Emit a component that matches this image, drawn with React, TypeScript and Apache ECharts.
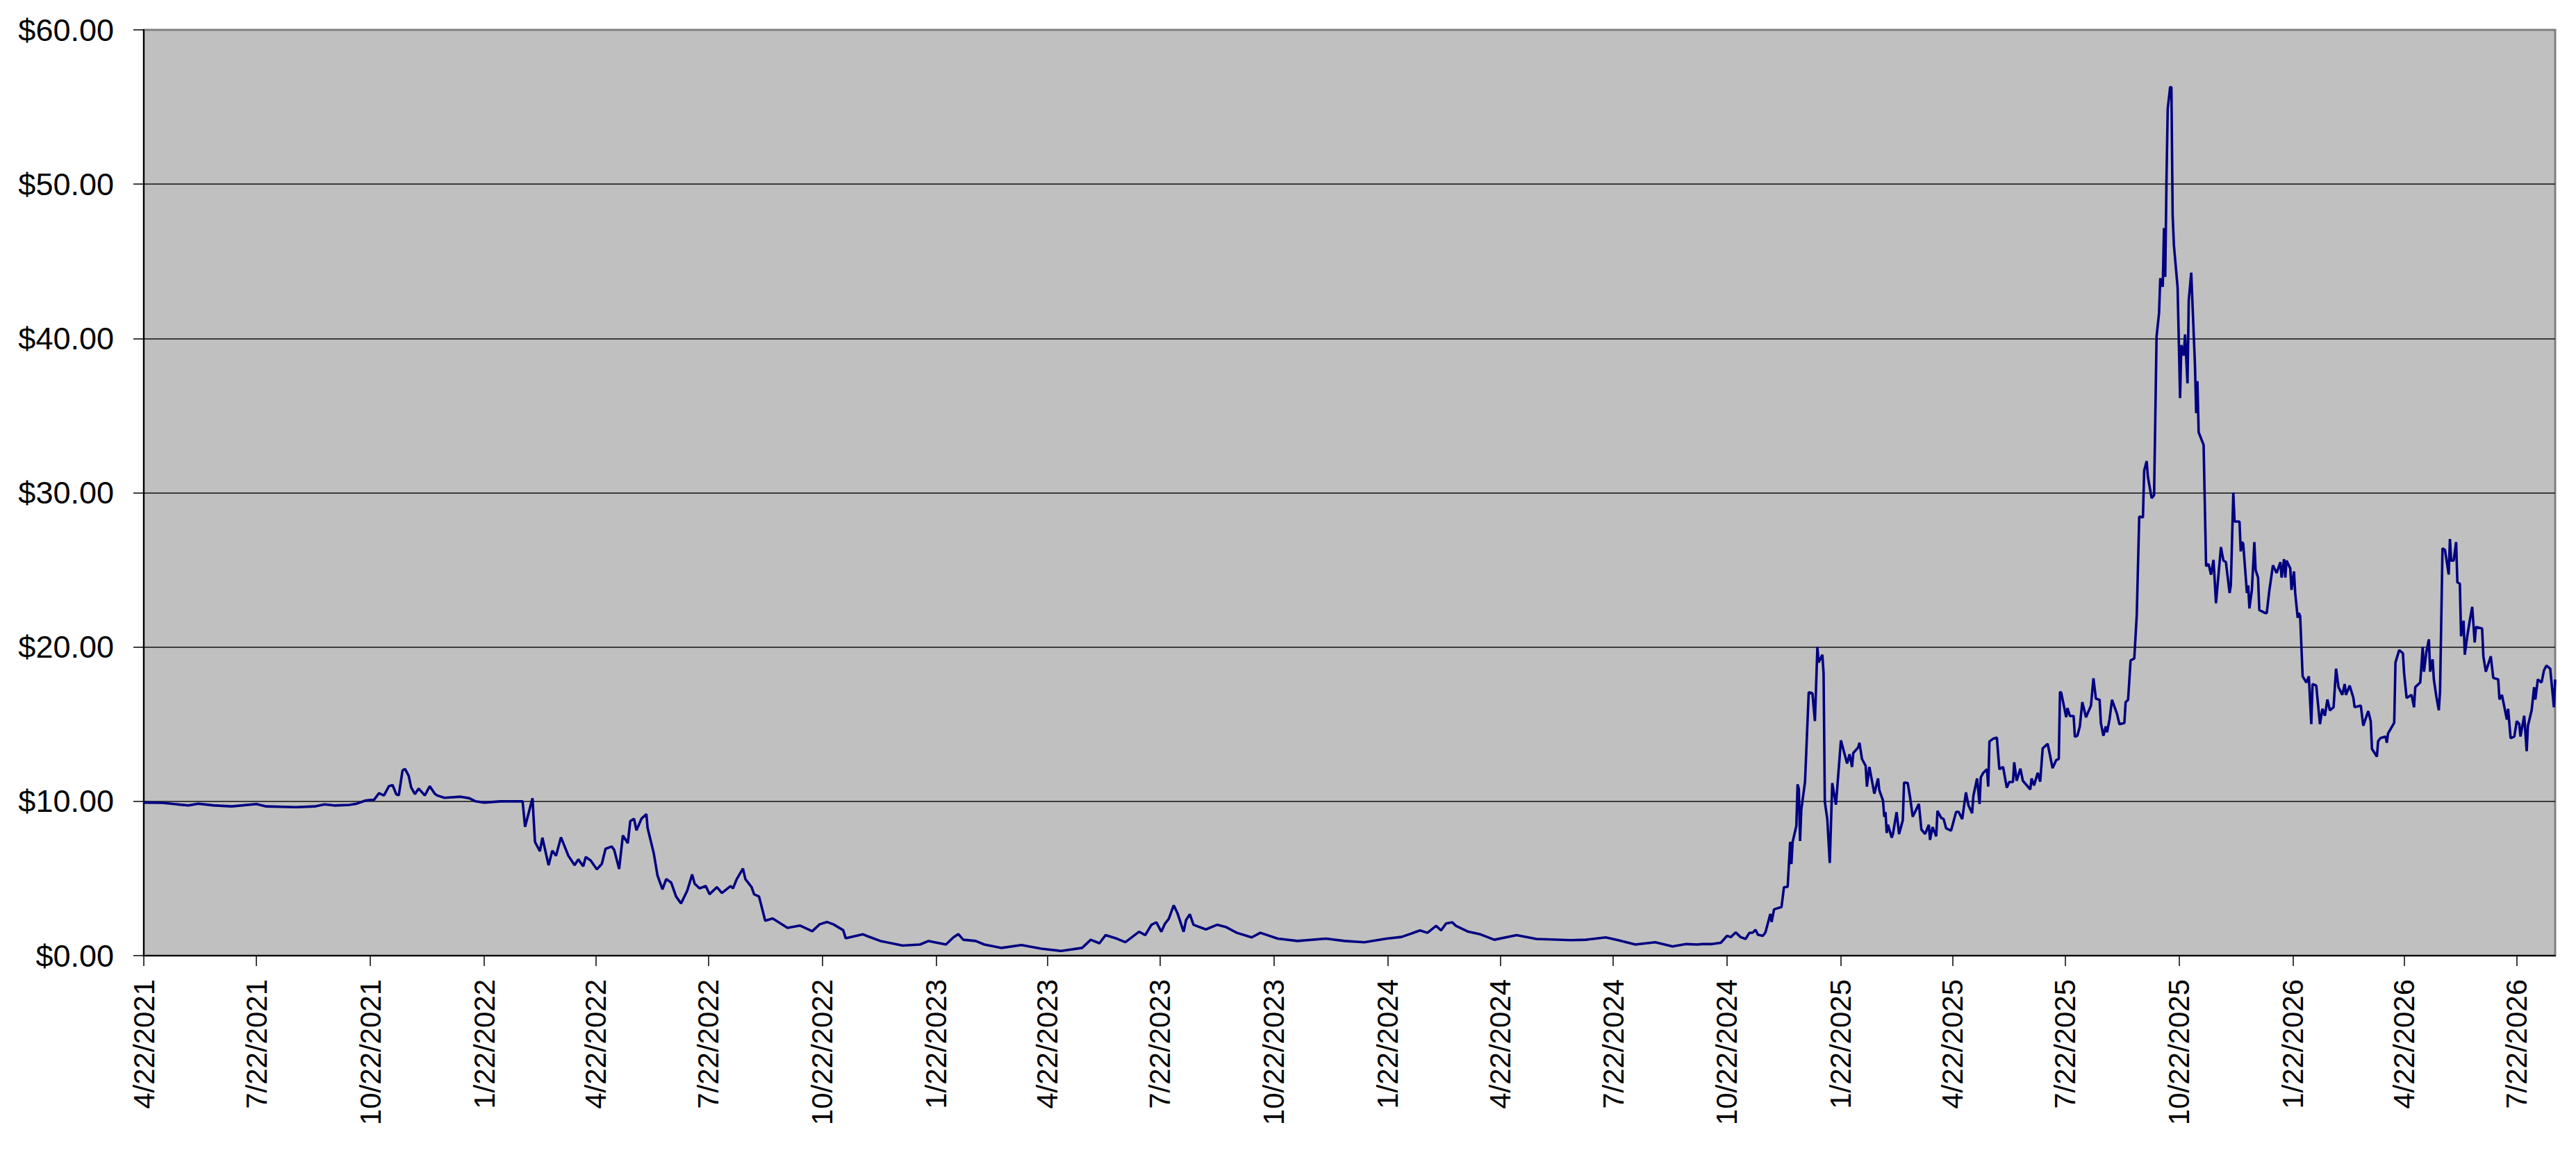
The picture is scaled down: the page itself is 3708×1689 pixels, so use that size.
import React, { useEffect, useRef } from "react";
import * as echarts from "echarts";

// x values: days since 4/22/2021 (the first date on the axis)
const dayOffsets: number[] = [
  0, 15, 36, 44, 56, 71, 91, 99, 123, 138, 146, 154, 166, 172, 179, 182, 186, 190, 194, 198,
  201, 204, 206, 209, 211, 214, 216, 219, 222, 227, 231, 235, 237, 243, 256, 263, 268, 275, 288, 306,
  308, 314, 316, 320, 322, 327, 330, 333, 337, 343, 348, 351, 355, 357, 361, 366, 370, 373, 378, 380,
  384, 387, 391, 393, 396, 398, 402, 406, 407, 412, 415, 419, 422, 426, 430, 434, 439, 443, 445, 449,
  454, 457, 463, 467, 474, 476, 479, 484, 486, 491, 493, 497, 502, 508, 520, 530, 540, 546, 552, 557,
  565, 567, 581,
  585, 595, 613, 627, 634, 648, 654, 658, 662, 672, 679, 693, 709, 725, 741, 758, 765, 772, 777, 786,
  793, 804, 809, 814, 818, 822, 825, 828, 832, 835, 840, 842, 845, 848, 858, 867, 874, 883, 895, 902,
  916, 932, 955, 970, 986, 1004, 1016, 1031, 1037, 1044, 1048, 1052, 1057, 1060, 1070, 1079, 1091, 1109, 1125, 1153,
  1165, 1181, 1191, 1205, 1221, 1235, 1246, 1255,
  1259, 1267, 1274, 1279, 1282, 1286, 1290, 1294, 1297, 1300, 1302, 1304, 1308, 1310, 1314, 1315, 1317, 1323, 1325, 1328,
  1330, 1331, 1332, 1335, 1336, 1337, 1338, 1339, 1342, 1345, 1348, 1350, 1352, 1353, 1356, 1357, 1358, 1360, 1362, 1364,
  1367, 1371, 1373, 1376, 1378, 1380, 1381, 1385, 1386, 1388, 1391, 1392, 1394, 1398, 1401, 1402, 1405, 1406, 1407, 1408,
  1409, 1412, 1413, 1416, 1418, 1421, 1422, 1425, 1427, 1429, 1434, 1436, 1439, 1442, 1443, 1445, 1448, 1449, 1452, 1454,
  1456, 1460, 1464, 1466, 1469, 1472, 1474, 1477, 1478, 1481, 1483, 1484, 1486, 1489, 1490, 1491, 1494, 1497, 1499, 1502,
  1505, 1507, 1510, 1511, 1513, 1516, 1518, 1524, 1525, 1527, 1530, 1532, 1534, 1538, 1539, 1542, 1545, 1547, 1548, 1549,
  1553, 1554, 1556, 1559, 1560, 1562, 1564, 1566, 1569, 1573, 1575, 1577, 1580, 1581, 1583, 1585, 1586, 1588, 1590, 1594,
  1596, 1600, 1601, 1603, 1605,
  1608, 1610, 1612, 1615, 1616, 1618, 1619, 1622, 1624, 1626, 1628, 1629, 1631, 1632, 1633, 1634, 1635, 1637, 1638, 1639,
  1640, 1643, 1645, 1646, 1648, 1649, 1651, 1652, 1654, 1657, 1658, 1659, 1660, 1664, 1666, 1668, 1670, 1672, 1674, 1678,
  1680, 1682, 1685, 1686, 1688, 1689, 1693, 1694, 1695,
  1696, 1699, 1700, 1701, 1703, 1705, 1706, 1708, 1709, 1714, 1715, 1717, 1720, 1723, 1726, 1727, 1729, 1730, 1731, 1734,
  1735, 1737, 1738, 1740, 1741, 1742, 1744, 1747, 1749, 1751, 1752, 1755, 1758, 1760, 1762, 1764, 1766, 1769, 1771, 1773,
  1776, 1778, 1779, 1782, 1785, 1786, 1791, 1793, 1797, 1799, 1800, 1804, 1805, 1807, 1811, 1812, 1813, 1818, 1819, 1822,
  1825, 1826, 1828, 1832, 1834, 1835, 1839, 1841, 1842, 1844, 1846, 1847, 1849, 1850, 1852, 1854, 1855, 1857, 1859, 1862,
  1863, 1864, 1866, 1868, 1869, 1871, 1872, 1874, 1875, 1877, 1879, 1881, 1883, 1884, 1889, 1890, 1892, 1894, 1896, 1898,
  1902, 1903, 1905, 1907, 1909, 1910, 1912, 1915, 1917, 1919, 1920, 1923, 1925, 1926, 1929, 1931, 1932, 1934, 1937, 1939,
  1941, 1944, 1947, 1948,
];

// closing prices in dollars, one per entry of dayOffsets
const prices: number[] = [
  9.92, 9.9, 9.73, 9.85, 9.74, 9.67, 9.82, 9.67, 9.62, 9.67, 9.8, 9.73, 9.77, 9.85, 10.05, 10.08, 10.1, 10.53, 10.38, 10.98,
  11.05, 10.45, 10.4, 12.0, 12.1, 11.65, 10.9, 10.47, 10.83, 10.38, 10.98, 10.5, 10.38, 10.23, 10.3, 10.2, 10.0, 9.92, 10.0, 10.0,
  8.35, 10.2, 7.37, 6.77, 7.64, 5.86, 6.8, 6.47, 7.67, 6.47, 5.86, 6.24, 5.79, 6.39, 6.17, 5.59, 5.94, 6.92, 7.07, 6.85,
  5.61, 7.79, 7.29, 8.72, 8.87, 8.12, 8.87, 9.17, 8.27, 6.62, 5.19, 4.29, 4.96, 4.74, 3.83, 3.38, 4.21, 5.26, 4.66, 4.36,
  4.51, 3.98, 4.44, 4.06, 4.51, 4.36, 4.96, 5.64, 4.96, 4.44, 3.98, 3.83, 2.26, 2.41, 1.8, 1.95, 1.58, 2.03, 2.18, 2.03,
  1.65, 1.13, 1.38,
  1.25, 0.95, 0.65, 0.72, 0.95, 0.72, 1.18, 1.4, 1.03, 0.95, 0.72, 0.5, 0.69, 0.45, 0.3, 0.5, 1.03, 0.8, 1.33, 1.1,
  0.87, 1.55, 1.33, 2.0, 2.16, 1.55, 2.08, 2.38, 3.26, 2.76, 1.55, 2.31, 2.68, 2.0, 1.7, 2.0, 1.86, 1.48, 1.18, 1.48,
  1.1, 0.95, 1.1, 0.95, 0.87, 1.1, 1.21, 1.63, 1.48, 1.93, 1.63, 2.08, 2.16, 1.93, 1.55, 1.4, 1.03, 1.33, 1.08, 1.0,
  1.03, 1.18, 1.0, 0.72, 0.87, 0.6, 0.75, 0.72,
  0.75, 0.75, 0.83, 1.28, 1.2, 1.5, 1.2, 1.08, 1.47, 1.5, 1.68, 1.35, 1.28, 1.5, 2.7, 2.18, 3.0, 3.15, 4.43, 4.46,
  7.38, 5.93, 7.38, 8.4, 11.1, 10.8, 7.43, 9.45, 11.25, 17.07, 17.0, 15.2, 20.0, 19.0, 19.5, 18.3, 9.98, 8.85, 6.0, 11.18,
  9.78, 13.95, 13.35, 12.45, 13.05, 12.23, 13.13, 13.5, 13.8, 12.75, 12.3, 10.95, 12.23, 10.5, 11.48, 10.73, 10.05, 9.0, 9.3, 7.95,
  8.48, 7.65, 7.88, 9.3, 7.88, 8.78, 11.22, 11.18, 10.2, 9.0, 9.83, 8.18, 7.88, 8.48, 7.5, 8.33, 7.73, 9.38, 8.93, 8.85,
  8.25, 8.1, 9.3, 9.33, 8.85, 10.58, 9.75, 9.23, 10.35, 11.48, 9.83, 11.55, 11.85, 12.08, 10.95, 13.88, 14.06, 14.13, 12.08, 12.23,
  10.88, 11.25, 11.25, 12.53, 11.33, 12.12, 11.33, 10.77, 11.48, 11.03, 11.85, 11.28, 13.43, 13.73, 13.35, 12.15, 12.68, 12.75, 17.1, 17.03,
  15.45, 16.05, 15.53, 15.53, 14.18, 14.25, 14.85, 16.43, 15.45, 16.2, 17.97, 16.65, 16.58, 15.08, 14.25, 14.85, 14.48, 15.3, 16.58, 15.68,
  15.0, 15.08, 16.43, 16.58, 19.13,
  19.26, 22.07, 28.46, 28.4, 31.44, 32.05, 31.03, 29.65, 29.84, 40.13, 41.64, 43.9, 43.35, 47.16, 43.99, 50.19, 54.88, 56.31, 56.26, 47.98,
  46.05, 43.3, 36.13, 39.57, 38.89, 40.26, 37.09, 42.47, 44.26, 38.33, 35.16, 37.23, 33.92, 33.1, 25.24, 25.38, 24.69, 25.65, 22.84, 26.48,
  25.6, 25.51, 23.5, 24.0, 30.01, 28.13, 28.13, 26.2, 26.81,
  26.7, 23.5, 24.0, 22.5, 23.7, 26.8, 25.0, 24.5, 22.4, 22.2, 22.2, 23.6, 25.3, 24.8, 25.5, 24.5, 25.7, 24.5, 25.6, 25.1,
  23.7, 24.9, 23.5, 21.9, 22.2, 22.0, 18.1, 17.7, 18.1, 15.0, 17.6, 17.5, 15.0, 16.0, 15.55, 16.6, 15.9, 16.1, 18.6, 17.4,
  16.9, 17.6, 16.9, 17.5, 16.7, 16.1, 16.2, 14.9, 15.85, 15.2, 13.4, 12.9, 13.9, 14.1, 14.2, 13.8, 14.4, 15.1, 19.0, 19.8,
  19.6, 18.3, 16.7, 16.9, 16.1, 17.4, 17.7, 20.0, 18.4, 19.7, 20.5, 18.4, 19.2, 17.9, 16.8, 15.9, 17.1, 26.4, 26.3, 24.7,
  27.0, 25.6, 25.6, 26.8, 24.2, 24.1, 20.7, 21.7, 19.5, 20.7, 21.7, 22.6, 20.3, 21.3, 21.2, 19.4, 18.4, 18.9, 19.4, 18.0,
  17.9, 16.6, 16.9, 16.1, 15.3, 16.0, 14.1, 14.2, 15.2, 15.0, 14.2, 15.55, 13.25, 14.9, 15.9, 17.4, 16.6, 17.9, 17.7, 18.5,
  18.8, 18.6, 16.1, 17.9,
];

// x-axis ticks (days since 4/22/2021) and their labels
const tickDays: number[] = [
  0, 91, 183, 275, 365, 456, 548, 640, 730, 821, 913, 1005, 1096, 1187, 1279, 1371, 1461, 1552, 1644, 1736, 1826, 1917,
];
const tickLabels: string[] = [
  "4/22/2021", "7/22/2021", "10/22/2021", "1/22/2022", "4/22/2022", "7/22/2022", "10/22/2022",
  "1/22/2023", "4/22/2023", "7/22/2023", "10/22/2023", "1/22/2024", "4/22/2024", "7/22/2024",
  "10/22/2024", "1/22/2025", "4/22/2025", "7/22/2025", "10/22/2025", "1/22/2026", "4/22/2026", "7/22/2026",
];
const xMaxDay = 1948;

const FONT = "'Liberation Sans', Arial, Helvetica, sans-serif";

export default function App() {
  const ref = useRef<HTMLDivElement>(null);

  useEffect(() => {
    if (!ref.current) return;
    const chart = echarts.init(ref.current, undefined, { renderer: "svg" });
    const data = dayOffsets.map((d, i) => [d, prices[i]]);
    chart.setOption({
      animation: false,
      backgroundColor: "#ffffff",
      grid: {
        left: 207,
        right: 30,
        top: 43,
        bottom: 313,
        containLabel: false,
        outerBoundsMode: "none",
        show: true,
        backgroundColor: "#C0C0C0",
        borderColor: "#808080",
        borderWidth: 3,
      },
      xAxis: {
        type: "value",
        min: 0,
        max: xMaxDay,
        axisLine: { show: true, onZero: false, lineStyle: { color: "#000000", width: 2 } },
        axisTick: {
          show: true,
          inside: false,
          length: 15,
          customValues: tickDays,
          lineStyle: { color: "#000000", width: 1.5 },
        },
        axisLabel: {
          show: true,
          customValues: tickDays,
          rotate: 90,
          margin: 34,
          fontSize: 42,
          fontFamily: FONT,
          color: "#000000",
          formatter: (v: number) => {
            const idx = tickDays.indexOf(Math.round(v));
            return idx >= 0 ? tickLabels[idx] : "";
          },
        },
        splitLine: { show: false },
      },
      yAxis: {
        type: "value",
        min: 0,
        max: 60,
        interval: 10,
        axisLine: { show: true, lineStyle: { color: "#000000", width: 2 } },
        axisTick: { show: true, inside: false, length: 15, lineStyle: { color: "#000000", width: 1.5 } },
        axisLabel: {
          margin: 43,
          fontSize: 45,
          fontFamily: FONT,
          color: "#000000",
          formatter: (v: number) => "$" + v.toFixed(2),
        },
        splitLine: {
          show: true,
          showMinLine: false,
          showMaxLine: false,
          lineStyle: { color: "#111111", width: 1.6 },
        },
      },
      series: [
        {
          type: "line",
          data,
          showSymbol: false,
          symbol: "none",
          clip: true,
          lineStyle: { color: "#000080", width: 3.6 },
        },
      ],
    });
    return () => chart.dispose();
  }, []);

  return (
    <div
      ref={ref}
      style={{ position: "absolute", left: 0, top: 0, width: 3708, height: 1689 }}
    />
  );
}
